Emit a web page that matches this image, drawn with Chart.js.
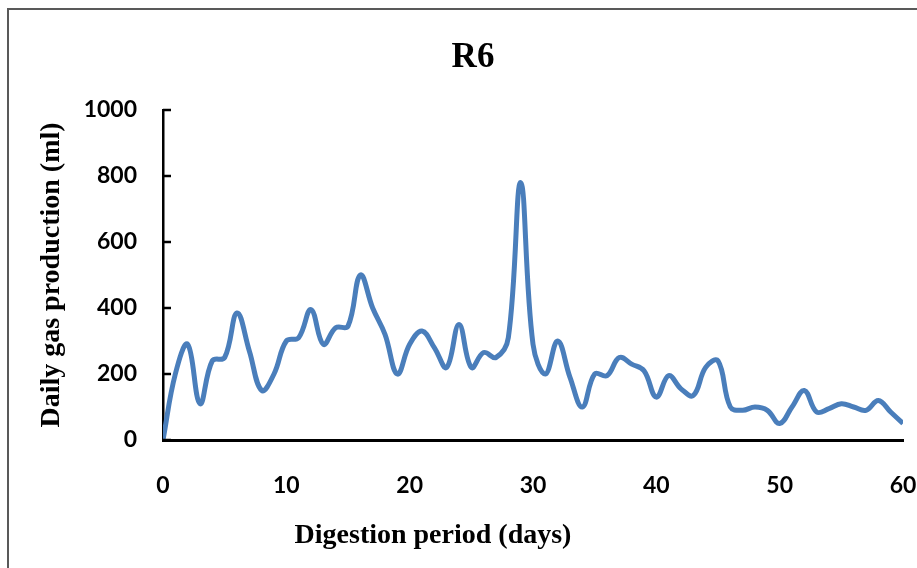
<!DOCTYPE html>
<html>
<head>
<meta charset="utf-8">
<title>R6</title>
<script src="https://cdn.jsdelivr.net/npm/chart.js@4/dist/chart.umd.min.js"></script>
<style>
  html, body { margin: 0; padding: 0; background: #fff; }
  #wrap { width: 917px; height: 568px; }
</style>
</head>
<body>
<div id="wrap"><canvas id="gasChart" width="917" height="568"></canvas></div>
<script>
// day-by-day readings for reactor R6
const days = [
  0, 1, 2, 3, 4, 5, 6, 7, 8, 9,
  10, 11, 12, 13, 14, 15, 16, 17, 18, 19,
  20, 21, 22, 23, 24, 25, 26, 27, 28, 29,
  30, 31, 32, 33, 34, 35, 36, 37, 38, 39,
  40, 41, 42, 43, 44, 45, 46, 47, 48, 49,
  50, 51, 52, 53, 54, 55, 56, 57, 58, 59, 60
]
const gasMl = [
  0, 200, 290, 110, 240, 250, 385, 270, 150, 200,
  300, 310, 395, 290, 340, 345, 500, 400, 320, 200,
  290, 330, 280, 220, 350, 220, 265, 250, 310, 780,
  290, 200, 300, 190, 100, 200, 195, 250, 230, 210,
  130, 195, 155, 135, 220, 240, 100, 90, 100, 90,
  50, 100, 150, 85, 95, 110, 100, 90, 120, 85, 50
]
const yTicks = [0, 200, 400, 600, 800, 1000]
const xTicks = [0, 10, 20, 30, 40, 50, 60]

const tickFont = { family: 'Lato', size: 23, weight: 'bold' }
const serifBold = 'bold 28px "Liberation Serif"'

// frame, inside tick marks on the y axis, chart title and x axis title
const extras = {
  id: 'extras',
  beforeDraw(chart) {
    const ctx = chart.ctx
    ctx.save()
    ctx.strokeStyle = '#595959'
    ctx.lineWidth = 2
    ctx.beginPath()
    ctx.moveTo(8, 600)
    ctx.lineTo(8, 9)
    ctx.lineTo(930, 9)
    ctx.stroke()
    ctx.restore()
  },
  afterDraw(chart) {
    const ctx = chart.ctx
    const y = chart.scales.y
    const left = chart.chartArea.left
    ctx.save()
    ctx.strokeStyle = '#000'
    ctx.lineWidth = 2.5
    yTicks.forEach(v => {
      const py = y.getPixelForValue(v)
      ctx.beginPath()
      ctx.moveTo(left, py)
      ctx.lineTo(left + 8, py)
      ctx.stroke()
    })
    ctx.fillStyle = '#000'
    ctx.textAlign = 'center'
    ctx.textBaseline = 'middle'
    ctx.font = 'bold 35px "Liberation Serif"'
    ctx.fillText('R6', 473, 58)
    ctx.font = serifBold
    ctx.fillText('Digestion period (days)', 433, 536)
    ctx.restore()
  }
}

new Chart(document.getElementById('gasChart'), {
  type: 'line',
  data: {
    labels: days,
    datasets: [{
      label: 'R6',
      data: days.map((d, i) => ({ x: d, y: gasMl[i] })),
      borderColor: '#4a7ebb',
      borderWidth: 5,
      pointRadius: 0,
      tension: 0.4,
      fill: false
    }]
  },
  options: {
    responsive: false,
    animation: false,
    layout: { padding: { top: 110, right: 14, left: 0, bottom: 0 } },
    plugins: {
      legend: { display: false },
      title: { display: false },
      tooltip: { enabled: false }
    },
    scales: {
      x: {
        type: 'linear',
        min: 0,
        max: 60,
        afterBuildTicks: axis => { axis.ticks = xTicks.map(v => ({ value: v })) },
        afterFit: axis => { axis.height = 128 },
        // invisible tick marks keep the labels clear of the axis line
        grid: { display: false, drawTicks: true, tickLength: 32 },
        border: { color: '#000', width: 3 },
        ticks: { font: tickFont, color: '#000', padding: 0, maxRotation: 0, callback: v => String(v) }
      },
      y: {
        min: 0,
        max: 1000,
        afterBuildTicks: axis => { axis.ticks = yTicks.map(v => ({ value: v })) },
        afterFit: axis => { axis.width = 163 },
        grid: { display: false, drawTicks: true, tickLength: 26 },
        border: { color: '#000', width: 2.5 },
        ticks: { font: tickFont, color: '#000', padding: 0, callback: v => String(v) },
        title: {
          display: true,
          text: 'Daily gas production (ml)',
          font: { family: 'Liberation Serif', size: 28, weight: 'bold' },
          color: '#000',
          padding: { top: 35, bottom: 0 }
        }
      }
    }
  },
  plugins: [extras]
})
</script>
</body>
</html>
